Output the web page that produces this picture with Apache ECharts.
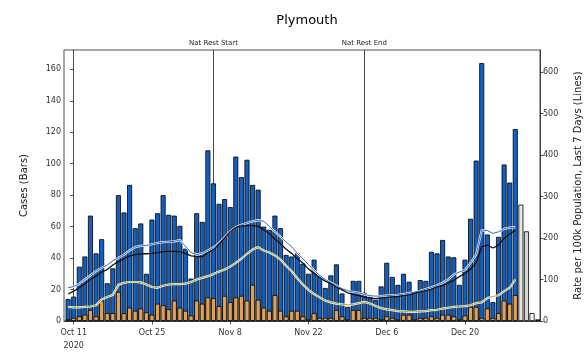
<!DOCTYPE html>
<html><head><meta charset="utf-8">
<script src="https://cdn.jsdelivr.net/npm/echarts@6/dist/echarts.min.js"></script>
<style>html,body{margin:0;padding:0;background:#fff}#c{width:584px;height:353px}</style>
</head><body><div id="c"></div>
<script>
// Day offsets relative to 11 Oct 2020; first bar is 10 Oct 2020
const firstDay = -1;
const casesAll = [14,15.5,34.5,41,67,43,52,24,33.5,80,69,86.5,59,62,30,64.5,68.5,80,67.5,67,60.5,46,27,68.5,63,108.5,87.5,74.5,77.5,72.5,104.5,91.5,102.5,86.5,83.5,60,58,67,59,42,41,43,36.5,30,39,28.5,21,29,36,17.5,9,25.5,25.5,18,15.5,13.5,22,37,28,23,30,25,18,26,25.5,44,43,51.5,41,40.5,23,39,65,102,164,55,12,53.5,99.5,88,122];
const casesOrange = [1,2,3,4,7,3,13,5,5,18.5,5,8.5,6.5,8,5.5,4,11,10,7.5,13,8.5,6.5,3.5,13,11,15,14.5,9.5,16,12,15,16,13,23,13.5,8.5,6.5,16.5,6.5,3,6.5,6.5,3,1,5,2,2,2,7,3,1,7,7,2,2,2,1,3,2,1,4,4,1,2,2,3,2,4,4,3,1,3.5,9,9,2,8,2,5,13,11,16.5];
const incompleteFirstDay = 80;
const casesIncomplete = [74,57,5,1];
const rateBlue = [80,83,90,100,110,120,128,135,145,152,160,170,178,181,182,185,188,190,191,192,195,180,165,160,163,170,177,188,202,216,226,232,236,240,243,240,228,215,203,190,179,163,150,136,122,110,100,92,85,78,73,70,68,64,61,60,60,61,62,63,65,67,70,73,77,81,86,92,100,112,118,123,140,160,219,218,211,215,222,225,226];
const rateBlack = [65,72,80,90,100,108,118,124,135,143,150,157,160,162,162,163,165,167,168,168,167,163,157,155,155,165,172,185,200,215,225,229,230,230,228,220,210,197,186,173,163,150,140,125,115,105,96,90,82,75,68,64,61,58,55,54,55,57,58,59,61,63,67,70,73,77,82,85,92,98,107,115,125,140,179,183,176,183,199,210,218];
const rateOlive = [34,33,33,34,35,38,52,58,63,87,92,94,94,93,88,82,80,85,88,89,89,90,94,100,104,108,113,119,124,131,140,150,162,172,178,170,165,158,148,133,120,103,88,75,65,57,49,45,42,40,39,40,43,46,42,36,31,28,26,24,23,22,22,23,24,26,27,30,32,34,35,36,38,43,45,55,59,62,72,80,100];
const tickDays = [0,14,28,42,56,70];
const tickLabels = ['Oct 11\n2020','Oct 25','Nov 8','Nov 22','Dec 6','Dec 20'];
const leftTicks = [0,20,40,60,80,100,120,140,160];
const rightTicks = [0,100,200,300,400,500,600];
const eventDays = [25,52];
const eventLabels = ['Nat Rest Start','Nat Rest End'];

const toXY = (arr, start) => arr.map((v,i)=>[start+i, v]);
const font = 'DejaVu Sans';
const chart = echarts.init(document.getElementById('c'), null, {renderer:'canvas'});
const axLine = {show:true,lineStyle:{color:'#222',width:0.8}};
const tick = vals => ({show:true,length:3.5,lineStyle:{color:'#222',width:0.8},customValues:vals});
chart.setOption({
  animation:false,
  backgroundColor:'#fff',
  title:{text:'Plymouth',left:302,textAlign:'center',top:9,textStyle:{fontFamily:font,fontSize:13,fontWeight:'normal',color:'#000'}},
  grid:{left:64,right:44,top:50,bottom:32,show:true,borderColor:'#222',borderWidth:0.8,containLabel:false,outerBoundsMode:'none'},
  xAxis:{type:'value',min:-1.735,max:83.42,
    axisLine:axLine, axisTick:tick(tickDays), splitLine:{show:false},
    axisLabel:{fontFamily:font,fontSize:8,color:'#333',margin:5,lineHeight:13,customValues:tickDays,
      formatter:v=>{const k=tickDays.indexOf(Math.round(v));return k>=0?tickLabels[k]:'';}}},
  yAxis:[
    {type:'value',min:0,max:172.3,position:'left',
      name:'Cases (Bars)',nameLocation:'middle',nameGap:35,nameRotate:90,
      nameTextStyle:{fontFamily:font,fontSize:10,color:'#222'},
      axisLine:axLine, axisTick:tick(leftTicks), splitLine:{show:false},
      axisLabel:{fontFamily:font,fontSize:8,color:'#333',margin:3,customValues:leftTicks}},
    {type:'value',min:0,max:653,position:'right',
      name:'Rate per 100k Population, Last 7 Days (Lines)',nameLocation:'middle',nameGap:33,nameRotate:90,
      nameTextStyle:{fontFamily:font,fontSize:10,color:'#222'},
      axisLine:axLine, axisTick:tick(rightTicks), splitLine:{show:false},
      axisLabel:{fontFamily:font,fontSize:8,color:'#333',margin:3,customValues:rightTicks}}
  ],
  series:[
    {type:'line',data:[],z:1,silent:true,
      markLine:{z:1,symbol:'none',silent:true,animation:false,
        lineStyle:{color:'#444',width:1,type:'solid'},
        label:{show:true,position:'end',distance:3,fontFamily:font,fontSize:7,color:'#222',formatter:p=>p.name},
        data:eventDays.map((d,i)=>({xAxis:d,name:eventLabels[i]}))}},
    {type:'bar',name:'cases',data:toXY(casesAll,firstDay),barWidth:5,barGap:'-100%',z:2,
      itemStyle:{color:'#135fc0',borderColor:'#000',borderWidth:0.8}},
    {type:'bar',name:'over60',data:toXY(casesOrange,firstDay),barWidth:5,barGap:'-100%',z:2,
      itemStyle:{color:'#dca15a',borderColor:'#000',borderWidth:0.8}},
    {type:'bar',name:'incomplete',data:toXY(casesIncomplete,incompleteFirstDay),barWidth:5,barGap:'-100%',z:2,
      itemStyle:{color:p=>['#e6e6dc','#d6d6d6','#ffffff','#444'][p.dataIndex],borderColor:'#000',borderWidth:0.8}},
    {type:'line',yAxisIndex:1,data:toXY(rateOlive,firstDay),showSymbol:false,z:3,lineStyle:{color:'#fff',width:2.2}},
    {type:'line',yAxisIndex:1,data:toXY(rateOlive,firstDay),showSymbol:false,z:3,lineStyle:{color:'#a8a43a',width:1}},
    {type:'line',yAxisIndex:1,data:toXY(rateBlue,firstDay),showSymbol:false,z:3,lineStyle:{color:'#fff',width:2.2}},
    {type:'line',yAxisIndex:1,data:toXY(rateBlue,firstDay),showSymbol:false,z:3,lineStyle:{color:'#2f66c8',width:1}},
    {type:'line',yAxisIndex:1,data:toXY(rateBlack,firstDay),showSymbol:false,z:3,lineStyle:{color:'#111',width:1.3}}
  ]
});
</script></body></html>
